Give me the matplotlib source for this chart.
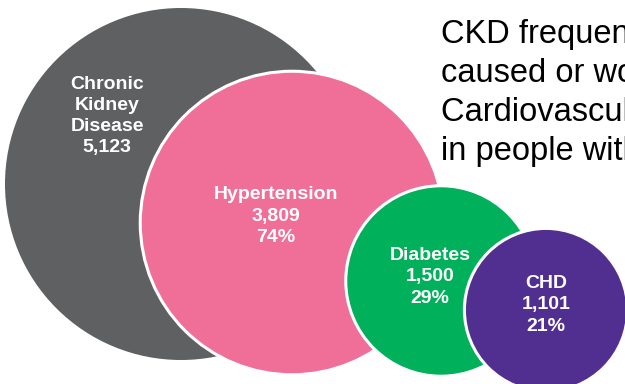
import matplotlib.pyplot as plt
from matplotlib.patches import Circle
import numpy as np

# data
names = ['Chronic\nKidney\nDisease', 'Hypertension', 'Diabetes', 'CHD']
counts = [5123, 3809, 1500, 1101]
pcts = [None, 74, 29, 21]
colors = ['#5f6062', '#ef6f98', '#00b05a', '#512f91']

side_text = ('CKD frequently co-exists with,\n'
             'caused or worsened by\n'
             'Cardiovascular disease\n'
             'in people with diabetes')

# layout (pixels, y down)
centers = [(181, 184), (292, 223), (441, 281), (546, 310)]
label_pos = [(107, 116), (276, 216), (430, 277), (546, 305)]
r_max = 176

plt.rcParams['font.family'] = ['Liberation Sans', 'DejaVu Sans']

fig = plt.figure(figsize=(6.25, 3.84), dpi=100)
ax = fig.add_axes([0, 0, 1, 1])
ax.set_xlim(0, 625)
ax.set_ylim(384, 0)
ax.set_aspect('equal')
ax.axis('off')

for i in range(len(names)):
    r = r_max * np.sqrt(counts[i] / counts[0])
    edge = 'none' if i == 0 else 'white'
    ax.add_patch(Circle(centers[i], r, facecolor=colors[i], edgecolor=edge,
                        linewidth=2.2, zorder=i + 1))
    txt = names[i] + '\n' + format(counts[i], ',')
    if pcts[i] is not None:
        txt += '\n%d%%' % pcts[i]
    ax.text(label_pos[i][0], label_pos[i][1], txt, color='white', fontsize=14,
            fontweight='bold', ha='center', va='center', linespacing=1.32,
            zorder=10)

ax.text(441, 19, side_text, fontsize=23.5, color='black', ha='left', va='top',
        linespacing=1.33, zorder=10)

fig.savefig('out.png', dpi=100)
